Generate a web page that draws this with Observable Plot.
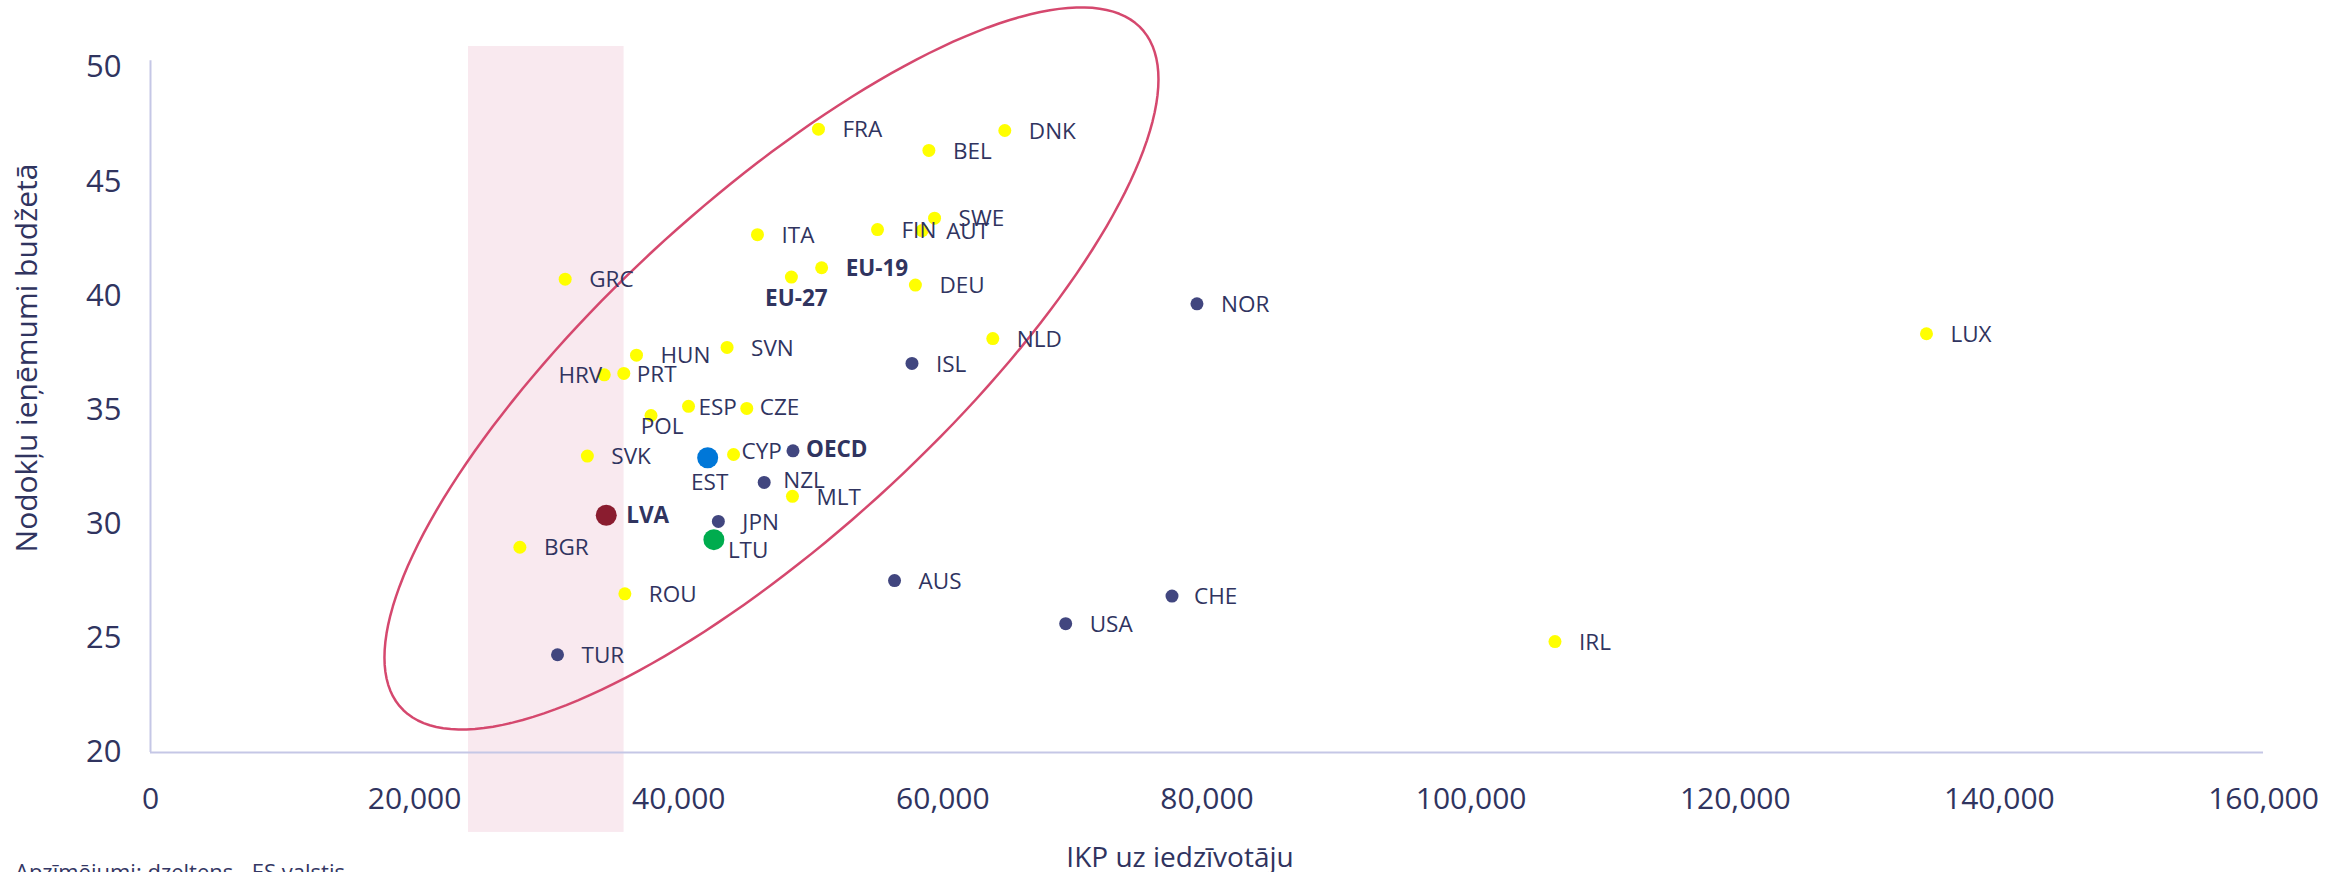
<!DOCTYPE html>
<html>
<head>
<meta charset="utf-8">
<script src="https://cdn.jsdelivr.net/npm/d3@7"></script>
<script src="https://cdn.jsdelivr.net/npm/@observablehq/plot@0.6"></script>
<style>
  html, body { margin: 0; padding: 0; background: #ffffff; overflow: hidden; }
  #wrap { position: relative; width: 2351px; height: 872px; font-family: "Open Sans", sans-serif; }
  #note { position: absolute; left: 15px; top: 857px; font-size: 22px; line-height: 1.362; color: #333663; white-space: nowrap; }
</style>
</head>
<body>
<div id="wrap">
  <div id="chart"></div>
  <div id="note">Apzīmējumi: dzeltens - ES valstis</div>
</div>
<script>
// ---- data ----
const codes = ["FRA","BEL","DNK","SWE","AUT","FIN","ITA","EU-19","EU-27","DEU","GRC","NLD","SVN","HUN","HRV","PRT","ESP","CZE","POL","SVK","CYP","MLT","BGR","ROU","LUX","IRL","LVA","LTU","EST","ISL","NOR","OECD","NZL","JPN","AUS","CHE","USA","TUR"];
const gdpPerCapita = [50580,58940,64690,59370,58430,55050,45960,50820,48530,57920,31400,63780,43660,36800,34360,35840,40740,45150,37900,33080,44150,48610,27970,35920,134480,106350,34510,42660,42190,57660,79240,48650,46470,43000,56340,77350,69300,30820];
const taxRevenue = [47.30,46.37,47.24,43.40,42.86,42.90,42.68,41.23,40.82,40.47,40.73,38.13,37.74,37.40,36.54,36.60,35.16,35.07,34.76,32.98,33.05,31.22,28.99,26.95,38.34,24.86,30.39,29.32,32.91,37.04,39.65,33.21,31.83,30.12,27.53,26.85,25.64,24.28];
const groups = ["EU","EU","EU","EU","EU","EU","EU","EU","EU","EU","EU","EU","EU","EU","EU","EU","EU","EU","EU","EU","EU","EU","EU","EU","EU","EU","LVA","LTU","EST","OECD","OECD","OECD","OECD","OECD","OECD","OECD","OECD","OECD"];
const boldCodes = ["EU-19","EU-27","OECD","LVA"];
const xTicks = [0,20000,40000,60000,80000,100000,120000,140000,160000];
const yTicks = [20,25,30,35,40,45,50];
const xLabel = "IKP uz iedzīvotāju";
const yLabel = "Nodokļu ieņēmumi budžetā";
// highlighted GDP band and its vertical extent
const bandGdp = [24080, 35860];
const bandTax = [16.5, 50.92];
// annotation ellipse (centre and conjugate semi-axes, data units)
const ellipseCentre = [47020, 36.82];
const ellipseAxisA = [29305, 12.66];
const ellipseAxisB = [0, -9.474];

// ---- styles ----
const textColor = "#30345f";
const axisColor = "#c5c7e6";
const groupColor = {EU: "#ffff00", OECD: "#41467f", LVA: "#8a1c2f", LTU: "#00ac4e", EST: "#0077d8"};
const bigGroups = ["LVA","LTU","EST"];
// label placement: [dx, dy, anchor]
const labelPlace = {
  "EU-27": [5, 22, "middle"], "CZE": [13, -1, "start"], "ESP": [10, 1, "start"],
  "POL": [11, 11, "middle"], "CYP": [8, -3, "start"], "OECD": [13, -1, "start"],
  "EST": [2, 25, "middle"], "NZL": [19, -2, "start"], "LVA": [20, 1, "start"],
  "LTU": [14, 11, "start"], "HRV": [-2, 1, "end"], "PRT": [13, 1, "start"],
  "CHE": [22, 1, "start"]
};

const table = codes.map((c, i) => ({
  code: c, gdp: gdpPerCapita[i], tax: taxRevenue[i], group: groups[i], bold: boldCodes.includes(c)
}));

const ellipsePts = d3.range(0, 361, 2).map(deg => {
  const t = deg * Math.PI / 180;
  return {
    gdp: ellipseCentre[0] + ellipseAxisA[0] * Math.cos(t) + ellipseAxisB[0] * Math.sin(t),
    tax: ellipseCentre[1] + ellipseAxisA[1] * Math.cos(t) + ellipseAxisB[1] * Math.sin(t)
  };
});

const labelMarks = table.map(d => {
  const p = labelPlace[d.code] || [24, 1, "start"];
  return Plot.text([d], {
    x: "gdp", y: "tax", text: "code",
    dx: p[0], dy: p[1], textAnchor: p[2], lineAnchor: "middle",
    fontSize: 22.5, fontWeight: d.bold ? "bold" : "normal", fill: textColor
  });
});

const hasAxisMarks = typeof Plot.axisX === "function";
const axisMarks = hasAxisMarks ? [
  Plot.axisX(xTicks, {tickSize: 0, tickPadding: 35, tickFormat: d3.format(","), fontSize: 30, color: textColor, label: null}),
  Plot.axisY(yTicks, {tickSize: 0, tickPadding: 29, fontSize: 31, color: textColor, label: null})
] : [];

const chart = Plot.plot({
  width: 2351,
  height: 872,
  marginLeft: 150,
  marginRight: 88,
  marginTop: 67,
  marginBottom: 120,
  style: {fontFamily: "'Open Sans', sans-serif", fontSize: "22px", color: textColor, background: "#ffffff", overflow: "visible"},
  x: hasAxisMarks ? {domain: [0, 160000], axis: null} : {domain: [0, 160000], ticks: xTicks, tickFormat: d3.format(","), tickSize: 0, tickPadding: 35, label: null},
  y: hasAxisMarks ? {domain: [20, 50], axis: null} : {domain: [20, 50], ticks: yTicks, tickSize: 0, tickPadding: 29, label: null},
  marks: [
    Plot.rect([{x1: bandGdp[0], x2: bandGdp[1], y1: bandTax[0], y2: bandTax[1]}], {x1: "x1", x2: "x2", y1: "y1", y2: "y2", fill: "#f9e9ef"}),
    Plot.ruleY([20], {x1: 0, x2: 160000, stroke: axisColor, strokeWidth: 2}),
    Plot.ruleX([0], {y1: 20, y2: 50.3, stroke: axisColor, strokeWidth: 2}),
    ...axisMarks,
    Plot.text([xLabel], {text: d => d, frameAnchor: "bottom", textAnchor: "middle", dx: -27, dy: 106, lineAnchor: "middle", fontSize: 28, fill: textColor}),
    Plot.text([yLabel], {text: d => d, frameAnchor: "left", textAnchor: "middle", rotate: -90, dx: -123, dy: -52, lineAnchor: "middle", fontSize: 30, fill: textColor}),
    Plot.line(ellipsePts, {x: "gdp", y: "tax", stroke: "#d5486e", strokeWidth: 2.5, curve: "linear"}),
    Plot.dot(table.filter(d => !bigGroups.includes(d.group)), {x: "gdp", y: "tax", r: 6.5, fill: d => groupColor[d.group]}),
    Plot.dot(table.filter(d => bigGroups.includes(d.group)), {x: "gdp", y: "tax", r: 10.5, fill: d => groupColor[d.group]}),
    ...labelMarks
  ]
});
document.getElementById("chart").appendChild(chart);
</script>
</body>
</html>
